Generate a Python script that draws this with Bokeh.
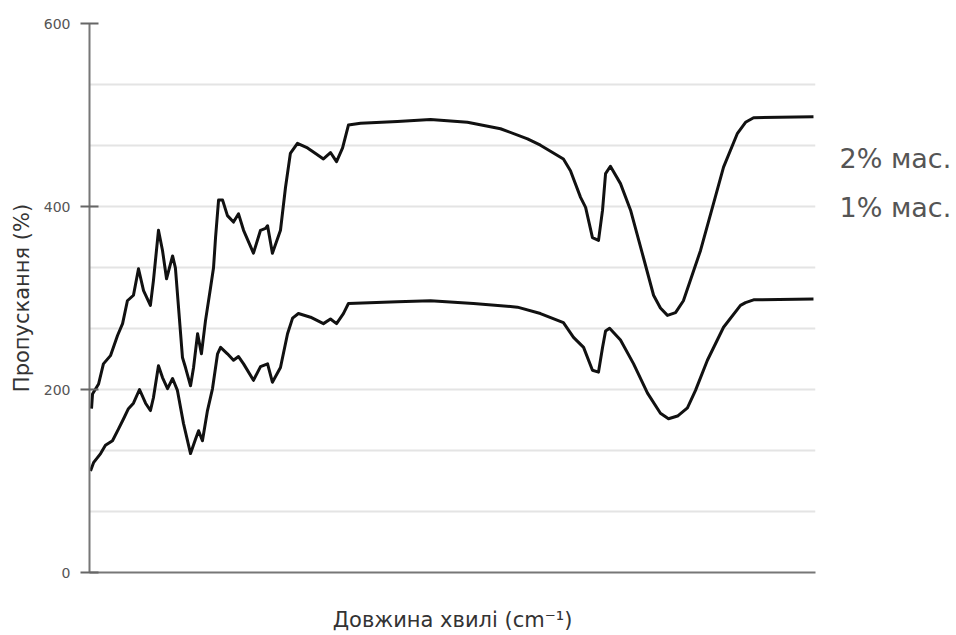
from bokeh.plotting import figure
from bokeh.models import Range1d, FixedTicker, Label
from bokeh.layouts import row
from bokeh.embed import file_html
from bokeh.resources import INLINE

# Wavenumber (cm^-1) and transmittance values
x_2pct = [410, 415, 445, 469, 504, 539, 564, 588, 618, 643, 668, 702, 717, 742, 762, 782, 812, 826,
          861, 876, 901, 916, 936, 955, 975, 1000, 1015, 1025, 1040, 1060, 1084, 1114, 1139, 1164,
          1213, 1248, 1273, 1283, 1307, 1347, 1372, 1396, 1431, 1481, 1521, 1560, 1595, 1625, 1655,
          1684, 1744, 1927, 2091, 2274, 2438, 2572, 2636, 2750, 2785, 2835, 2860, 2894, 2924, 2944,
          2959, 2983, 3033, 3083, 3147, 3197, 3231, 3266, 3306, 3345, 3430, 3489, 3544, 3613, 3653,
          3693, 3990]
y_2pct = [179, 195, 206, 228, 237, 259, 272, 297, 303, 332, 308, 292, 319, 374, 352, 321, 346, 333,
          235, 224, 204, 224, 261, 239, 275, 311, 333, 366, 407, 407, 390, 383, 392, 374,
          349, 374, 376, 379, 349, 374, 421, 458, 469, 464, 458, 452, 459, 449, 464,
          489, 491, 493, 495, 492, 485, 474, 467, 452, 439, 410, 399, 366, 363, 396,
          436, 444, 425, 396, 344, 303, 289, 281, 284, 297, 352, 399, 443, 480, 492,
          497, 498]

x_1pct = [405, 420, 455, 479, 514, 544, 569, 593, 618, 648, 678, 702, 717, 742, 762, 787, 812, 836,
          866, 901, 926, 941, 960, 985, 1010, 1035, 1050, 1084, 1114, 1139, 1164, 1213, 1248, 1283,
          1307, 1347, 1382, 1407, 1436, 1496, 1560, 1595, 1625, 1659, 1684, 1927, 2091, 2304, 2522,
          2636, 2750, 2800, 2850, 2894, 2924, 2944, 2959, 2979, 3033, 3098, 3167, 3231, 3271, 3316,
          3365, 3405, 3464, 3544, 3628, 3653, 3693, 3990]
y_1pct = [111, 120, 130, 139, 144, 157, 168, 179, 185, 200, 185, 177, 191, 226, 213, 201, 212, 199,
          163, 130, 146, 155, 144, 177, 201, 239, 246, 239, 232, 236, 228, 210, 225, 228,
          208, 224, 261, 278, 283, 279, 272, 277, 272, 283, 294, 296, 297, 294, 290,
          283, 273, 257, 246, 221, 219, 246, 264, 267, 254, 228, 196, 174, 168, 171,
          180, 199, 232, 268, 292, 295, 298, 299]

x_start, x_end = 400, 4000
y_ticks = [0, 200, 400, 600]
grid_lines = [600 * k / 9 for k in range(1, 10)]
series_labels = ["2% мас.", "1% мас."]
series_label_y = [452, 399]

H = 634
y_range = Range1d(0, 600)

p = figure(width=818, height=H, output_backend="svg", toolbar_location=None,
           x_range=Range1d(x_start, x_end), y_range=y_range,
           min_border_left=89, min_border_right=3, min_border_top=23, min_border_bottom=62)
p.outline_line_color = None
p.background_fill_color = "white"

p.xgrid.visible = False
p.ygrid.ticker = FixedTicker(ticks=grid_lines)
p.ygrid.grid_line_color = "#e4e4e4"
p.ygrid.grid_line_width = 2

for xs, ys in ((x_2pct, y_2pct), (x_1pct, y_1pct)):
    p.line(xs, ys, line_color="#111111", line_width=3, line_join="round")

ya = p.yaxis[0]
ya.ticker = FixedTicker(ticks=y_ticks)
ya.minor_tick_line_color = None
ya.major_tick_in = 9
ya.major_tick_out = 9
ya.major_tick_line_color = "#666666"
ya.major_tick_line_width = 2
ya.axis_line_color = "#777777"
ya.axis_line_width = 2
ya.major_label_text_font = "DejaVu Sans"
ya.major_label_text_font_size = "14px"
ya.major_label_text_color = "#555555"
ya.major_label_standoff = 10
ya.axis_label = "Пропускання (%)"
ya.axis_label_text_font = "DejaVu Sans"
ya.axis_label_text_font_size = "21px"
ya.axis_label_text_font_style = "normal"
ya.axis_label_text_color = "#333333"
ya.axis_label_standoff = 7

xa = p.xaxis[0]
xa.ticker = FixedTicker(ticks=[])
xa.minor_tick_line_color = None
xa.major_tick_out = 0
xa.major_tick_in = 0
xa.major_label_text_font_size = "0px"
xa.axis_line_color = "#777777"
xa.axis_line_width = 2
xa.axis_label = "Довжина хвилі (cm⁻¹)"
xa.axis_label_text_font = "DejaVu Sans"
xa.axis_label_text_font_size = "21px"
xa.axis_label_text_font_style = "normal"
xa.axis_label_text_color = "#333333"
xa.axis_label_standoff = 35

# side panel holding the series names, sharing the y scale of the main plot
q = figure(width=134, height=H, output_backend="svg", toolbar_location=None,
           x_range=Range1d(0, 134), y_range=y_range, x_axis_type=None, y_axis_type=None,
           min_border_left=0, min_border_right=0, min_border_top=23, min_border_bottom=62)
q.outline_line_color = None
q.xgrid.visible = False
q.ygrid.visible = False
for txt, yv in zip(series_labels, series_label_y):
    q.add_layout(Label(x=21, y=yv, text=txt,
                       text_font="DejaVu Sans", text_font_size="27px", text_color="#555555",
                       text_baseline="middle", text_align="left"))

layout = row(p, q)
open("out.html", "w").write(file_html(layout, INLINE))
